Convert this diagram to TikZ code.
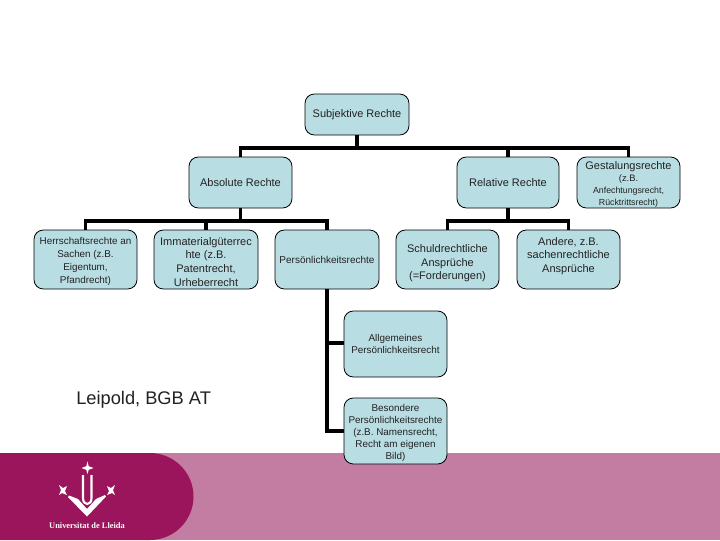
\documentclass[tikz,border=0pt]{standalone}
\usepackage{fontspec}
\setmainfont{Liberation Sans}
\newfontfamily\logofont{Liberation Serif}
\definecolor{boxfill}{HTML}{B8DDE3}
\definecolor{bannerdark}{HTML}{9A155B}
\definecolor{bannerlight}{HTML}{C37DA2}
\definecolor{inktext}{HTML}{222222}
\newcommand{\fsz}[2]{\fontsize{#1}{#2}\selectfont}
\newcommand{\dn}[1]{\rule{0pt}{#1}}
\tikzset{
  x=0.75pt,y=-0.75pt,
  rbox/.style={draw=black,line width=0.6pt,fill=boxfill,rounded corners=7pt,inner sep=0pt,align=center,text=inktext},
  bar/.style={draw=black,line width=2.8pt,line join=miter},
  wh/.style={fill=white,draw=none},
  big/.style={font=\fsz{8.25}{10.2}},
  mid/.style={font=\fsz{7.4}{9.6}}
}
\newcommand{\boxat}[7]{% name, x0,y0,x1,y1, style, text
  \node[rbox,#6,minimum width=#4*0.75pt-#2*0.75pt,minimum height=#5*0.75pt-#3*0.75pt] (#1) at ({(#2+#4)/2},{(#3+#5)/2}) {#7};}
\begin{document}
\begin{tikzpicture}
\useasboundingbox (0,0) rectangle (720,540);
\fill[white] (0,0) rectangle (720,540);
% banner
\fill[bannerlight] (0,453) rectangle (720,540);
\fill[bannerdark] (0,453) -- (150,453) .. controls (174,453) and (193.5,472.5) .. (193.5,496.5) .. controls (193.5,520.5) and (174,540) .. (150,540) -- (0,540) -- cycle;
% connector levels
\coordinate (busa) at (357,148);
\coordinate (busb) at (240,221);
\coordinate (busc) at (508,221);
\coordinate (busd) at (327,343);
\coordinate (buse) at (327,431);
% boxes
\boxat{sub}{305}{94}{409}{135}{big}{Subjektive Rechte}
\boxat{abs}{189}{157}{292}{208}{big}{Absolute Rechte}
\boxat{rel}{457}{157}{559}{208}{big}{Relative Rechte}
\boxat{gest}{577}{157}{680}{208}{font=\fsz{6.6}{9}}{\fsz{8.25}{9.5}\dn{9pt}Gestalungsrechte\\\fsz{7}{10}(z.B.\\\fsz{6.6}{9}Anfechtungsrecht,\\\fsz{6.6}{9}Rücktrittsrecht)}
\boxat{her}{34}{230}{137}{289}{mid}{\dn{8.5pt}Herrschaftsrechte an\\Sachen (z.B.\\Eigentum,\\Pfandrecht)}
\boxat{imm}{154}{230}{258}{289}{big}{\dn{9.5pt}Immaterialgüterrec\\hte (z.B.\\Patentrecht,\\Urheberrecht}
\boxat{per}{275}{230}{379}{289}{font=\fsz{7.5}{9}}{Persönlichkeitsrechte}
\boxat{sch}{396}{230}{499}{289}{big}{\dn{11.5pt}Schuldrechtliche\\Ansprüche\\(=Forderungen)}
\boxat{and}{517}{230}{620}{289}{big}{Andere, z.B.\\sachenrechtliche\\Ansprüche\\[-3pt]\mbox{}}
\boxat{all}{344}{311}{447}{377}{mid}{Allgemeines\\Persönlichkeitsrecht}
\boxat{bes}{344}{398}{447}{464}{font=\fsz{7.4}{9}}{\dn{9pt}Besondere\\Persönlichkeitsrechte\\(z.B. Namensrecht,\\Recht am eigenen\\Bild)}
% connectors
\draw[bar] (sub.south) -- (sub.south |- busa);
\draw[bar] (abs.north) |- (busa) -| (gest.north);
\draw[bar] (rel.north) -- (rel.north |- busa);
\draw[bar] (abs.south) -- (abs.south |- busb);
\draw[bar] (her.north) |- (busb) -| (per.north);
\draw[bar] (imm.north) -- (imm.north |- busb);
\draw[bar] (rel.south) -- (rel.south |- busc);
\draw[bar] (sch.north) |- (busc) -| (and.north);
\draw[bar] (per.south) |- (bes.west |- buse);
\draw[bar] (busd) -- (all.west |- busd);
% free text
\node[anchor=west,inner sep=0pt,text=inktext,font=\fsz{13.7}{16}] (lei) at (76,400) {Leipold, BGB AT};
% logo
\fill[wh] (87.5,461.5) -- (88.7,466.2) -- (93.5,468) -- (88.7,469.8) -- (87.5,474) -- (86.3,469.8) -- (81.5,468) -- (86.3,466.2) -- cycle;
\draw[white,line width=1.6pt] (83,475) -- (83,498) .. controls (83,506) and (91.5,506) .. (91.5,498) -- (91.5,475);
\fill[wh] (69,495.5) -- (78,499) -- (87,509) -- (96,499) -- (105,495) -- (106,496.5) -- (87,516.5) -- (68,497) -- cycle;
\fill[wh] (59,485) -- (63,488) -- (67,486) -- (65,491) -- (67,495) -- (62,493) -- (59,495) -- (61,490) -- cycle;
\fill[wh] (115,485) -- (111,488) -- (107,486) -- (109,491) -- (107,495) -- (112,493) -- (115,495) -- (113,490) -- cycle;
\node[inner sep=0pt,text=white,font=\logofont\bfseries\fsz{6.3}{7}] (uni) at (87,526) {Universitat de Lleida};
\end{tikzpicture}
\end{document}
